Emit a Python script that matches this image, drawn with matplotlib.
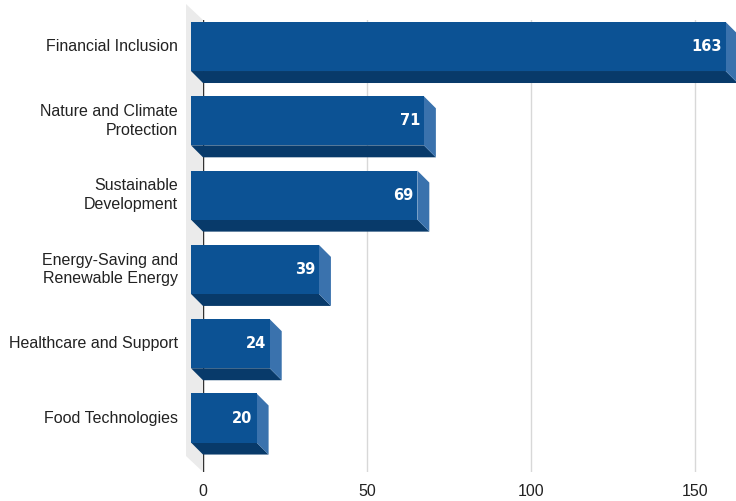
import matplotlib
matplotlib.use("Agg")
import matplotlib.pyplot as plt
from matplotlib.patches import Polygon, Rectangle
from matplotlib.transforms import ScaledTranslation, IdentityTransform, blended_transform_factory

categories = ["Financial Inclusion", "Nature and Climate\nProtection", "Sustainable\nDevelopment",
              "Energy-Saving and\nRenewable Energy", "Healthcare and Support", "Food Technologies"]
values = [163, 71, 69, 39, 24, 20]
xticks = [0, 50, 100, 150]

front_c = "#0c5294"
bottom_c = "#083a6a"
side_c = "#3a72ad"
wall_c = "#ebebeb"

DPI = 100
W, H = 736, 501
fig = plt.figure(figsize=(W / DPI, H / DPI), dpi=DPI)
# plot area in pixels: x 203..736, y 20..472 (from top)
ax = fig.add_axes([203 / W, 1 - 472 / H, (736 - 203) / W, (472 - 20) / H])
ax.set_xlim(0, 162.5)
ax.set_ylim(5.565, -0.518)
for s in ax.spines.values():
    s.set_visible(False)
ax.set_yticks([])
ax.set_xticks(xticks)
ax.tick_params(axis="x", length=0, pad=9, labelsize=11.5, labelcolor="#222222")
for t in ax.get_xticklabels():
    t.set_fontfamily("Liberation Sans")
ax.grid(axis="x", color="#d8d8d8", lw=1, zorder=0)
ax.set_axisbelow(True)

d = 12  # bar depth offset in px
px = 1 / DPI
pix = IdentityTransform()
front = ax.transData + ScaledTranslation(-d * px, d * px, fig.dpi_scale_trans)
bh = 0.66

# grey side wall left of the axis
p_top = ax.transAxes.transform((0, 1))
p_bot = ax.transAxes.transform((0, 0))
wall = Polygon([(p_top[0] - 17, p_top[1] + 16), p_top, p_bot, (p_bot[0] - 17, p_bot[1] + 16)],
               closed=True, transform=pix, facecolor=wall_c, edgecolor="none", zorder=0.5, clip_on=False)
ax.add_patch(wall)
ax.axvline(0, color="#333333", lw=1, zorder=1)

for i, v in enumerate(values):
    y0, y1 = i - bh / 2, i + bh / 2
    # back face corners in display pixels (value sits on the axis plane)
    bx0, by_bot = ax.transData.transform((0, y1))
    bx1, by_top = ax.transData.transform((v, y0))
    bottom = Polygon([(bx0 - d, by_bot + d), (bx1 - d, by_bot + d), (bx1, by_bot), (bx0, by_bot)],
                     closed=True, transform=pix, facecolor=bottom_c, edgecolor="none", zorder=2, clip_on=False)
    side = Polygon([(bx1 - d, by_top + d), (bx1, by_top), (bx1, by_bot), (bx1 - d, by_bot + d)],
                   closed=True, transform=pix, facecolor=side_c, edgecolor="none", zorder=2, clip_on=False)
    face = Rectangle((0, y0), v, bh, transform=front, facecolor=front_c, edgecolor="none",
                     zorder=3, clip_on=False)
    ax.add_patch(bottom)
    ax.add_patch(side)
    ax.add_patch(face)
    ax.text(v, i, str(v), transform=front + ScaledTranslation(-4 * px, 0, fig.dpi_scale_trans),
            ha="right", va="center", color="white", fontsize=10.5, fontweight="bold",
            family="DejaVu Sans", zorder=4, clip_on=False)
    ax.text(0, i, categories[i],
            transform=blended_transform_factory(ax.transAxes, ax.transData)
            + ScaledTranslation(-25 * px, d * px, fig.dpi_scale_trans),
            ha="right", va="center", fontsize=11.5, color="#222222",
            family="Liberation Sans", linespacing=1.3)

ax.set_xlim(0, 162.5)
ax.set_ylim(5.565, -0.518)
fig.savefig("out.png", dpi=DPI)
